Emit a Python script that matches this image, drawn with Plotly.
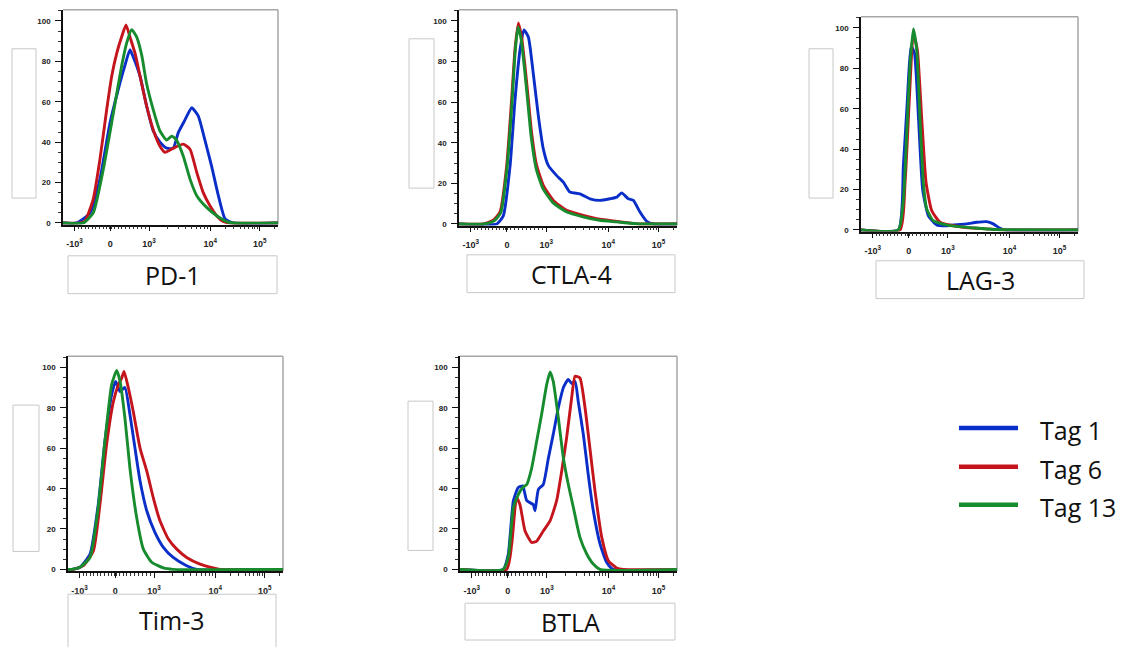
import plotly.graph_objects as go
import math

W, H = 1122, 647

# ---------------- data (x in biexponential display channels 0-1024, y = % of max) -------------
X_TICK_POS = [55, 225, 410, 701, 937]
X_TICK_TEXT = ["-10<sup>3</sup>", "0", "10<sup>3</sup>", "10<sup>4</sup>", "10<sup>5</sup>"]
Y_TICKS = [0, 20, 40, 60, 80, 100]

MARKERS = ["PD-1", "CTLA-4", "LAG-3", "Tim-3", "BTLA"]
SAMPLES = ["Tag 1", "Tag 6", "Tag 13"]
COLORS = ["#0a2ec8", "#c4141c", "#178c2e"]

# PD-1
PD1_TAG1_X = [0, 65, 129, 176, 224, 263, 295, 319, 335, 367, 398, 430, 462, 494, 525, 549, 581, 613, 644, 676, 708, 740, 772, 811, 1024]
PD1_TAG1_Y = [0, 0, 5, 21.7, 49.6, 66, 78, 85.7, 82, 72.6, 58, 45.5, 40, 37, 37, 44.7, 51, 57, 53, 41, 28, 13.5, 2, 0, 0]
PD1_TAG6_X = [0, 81, 105, 144, 176, 208, 232, 256, 279, 300, 319, 343, 367, 398, 430, 462, 486, 525, 573, 605, 637, 668, 700, 732, 764, 795, 1024]
PD1_TAG6_Y = [0, 0, 1, 11.8, 31.5, 56, 72.6, 84, 92, 98, 92, 84, 72.6, 58, 46, 38, 35, 37, 39, 36.5, 25, 15, 8.5, 3.6, 0.7, 0, 0]
PD1_TAG13_X = [0, 97, 144, 192, 240, 279, 303, 327, 351, 375, 398, 430, 462, 494, 518, 541, 573, 605, 637, 684, 732, 780, 811, 1024]
PD1_TAG13_Y = [0, 0, 5, 26.6, 54.5, 77.5, 89, 95.6, 92, 83, 69, 56, 45.5, 41, 43, 41, 33, 21.7, 13.5, 7.7, 3.6, 0.7, 0, 0]

# CTLA-4
CTLA4_TAG1_X = [0, 177, 208, 240, 263, 287, 305, 326, 349, 373, 396, 420, 459, 490, 521, 568, 615, 662, 709, 741, 764, 795, 819, 850, 882, 913, 1024]
CTLA4_TAG1_Y = [0, 0, 4, 28.7, 61, 86, 95.6, 92, 74, 53, 37, 28.7, 23.8, 20.6, 15.7, 14.8, 12.4, 11.6, 12.4, 13.2, 15.3, 12.4, 11.6, 5.9, 1.3, 0, 0]
CTLA4_TAG6_X = [0, 114, 161, 193, 224, 247, 263, 279, 294, 310, 326, 341, 365, 396, 443, 506, 584, 662, 741, 819, 850, 1024]
CTLA4_TAG6_Y = [0, 0, 1.8, 6, 28.7, 61, 86, 99, 92, 77.6, 61, 45, 28.7, 19, 11.6, 6.7, 4.2, 2.3, 1.3, 0.3, 0, 0]
CTLA4_TAG13_X = [0, 118, 165, 196, 226, 249, 264, 277, 292, 308, 324, 339, 363, 394, 441, 504, 582, 660, 739, 817, 848, 1024]
CTLA4_TAG13_Y = [0, 0, 1.5, 5.5, 28, 60, 85, 97, 91, 76, 59, 43, 27, 17.5, 10.5, 6, 3.5, 1.8, 1, 0.2, 0, 0]

# LAG-3
LAG3_TAG1_X = [0, 176, 200, 219, 236, 252, 271, 291, 318, 357, 404, 452, 499, 546, 593, 624, 656, 680, 1024]
LAG3_TAG1_Y = [0, 0, 31.7, 64.6, 91, 87.7, 56, 20, 7, 2.5, 2.1, 2.6, 3, 3.8, 4.1, 3, 0.8, 0, 0]
LAG3_TAG6_X = [0, 184, 208, 228, 247, 266, 286, 307, 334, 373, 467, 593, 687, 1024]
LAG3_TAG6_Y = [0, 0, 23.5, 64.6, 97.5, 89, 56, 23.5, 9.5, 3.8, 1.6, 0.5, 0, 0]
LAG3_TAG13_X = [0, 176, 200, 216, 231, 247, 263, 278, 294, 310, 341, 420, 530, 625, 1024]
LAG3_TAG13_Y = [0, 0, 15, 48, 81, 99.5, 89, 56, 23.5, 10.4, 4.6, 2.1, 1, 0.2, 0]

# Tim-3
TIM3_TAG1_X = [0, 18, 57, 105, 144, 176, 208, 227, 248, 271, 295, 319, 343, 375, 414, 454, 501, 565, 613, 1024]
TIM3_TAG1_Y = [0, 0, 1, 7.6, 32, 63.5, 86.5, 93, 88, 90, 76.6, 60, 43.8, 29, 18.3, 10.9, 5.9, 1.8, 0, 0]
TIM3_TAG6_X = [0, 25, 73, 121, 152, 184, 216, 240, 256, 267, 287, 311, 343, 375, 406, 438, 478, 518, 565, 629, 692, 724, 1024]
TIM3_TAG6_Y = [0, 0, 1.8, 9.2, 32, 62, 83, 91.4, 94.7, 98, 90, 78, 60, 48.7, 35.5, 24, 15, 10, 5.9, 2.6, 0.7, 0, 0]
TIM3_TAG13_X = [0, 18, 57, 105, 144, 176, 208, 232, 248, 271, 295, 327, 359, 399, 454, 500, 1024]
TIM3_TAG13_Y = [0, 0, 1, 6, 30.6, 63.5, 91.4, 98.4, 93, 75, 50, 25.7, 10, 3.5, 0.7, 0, 0]

# BTLA
BTLA_TAG1_X = [0, 204, 228, 252, 275, 296, 315, 346, 354, 370, 393, 417, 440, 464, 488, 511, 527, 543, 558, 582, 605, 629, 661, 692, 723, 1024]
BTLA_TAG1_Y = [0, 0, 7.6, 34, 40.5, 41.3, 34, 32, 29, 39.6, 42, 55, 66.8, 80, 90, 94, 92, 93, 83, 66.8, 47, 29, 12.5, 3.5, 0, 0]
BTLA_TAG6_X = [0, 220, 244, 267, 283, 307, 338, 362, 393, 425, 456, 480, 503, 527, 543, 566, 590, 613, 637, 669, 700, 739, 771, 1024]
BTLA_TAG6_Y = [0, 0, 12.5, 35.5, 32, 19, 13.3, 14, 19, 24, 34, 48.7, 65, 85, 95.6, 94.7, 80, 60, 38.8, 15.8, 4.3, 0.7, 0, 0]
BTLA_TAG13_X = [0, 204, 228, 252, 275, 296, 315, 338, 362, 385, 409, 425, 440, 464, 488, 511, 535, 566, 598, 629, 661, 1024]
BTLA_TAG13_Y = [0, 0, 6, 30.6, 37, 40.5, 42, 50, 63.5, 76.6, 91.4, 97.7, 93, 75, 55, 42, 30.6, 15.8, 7.6, 2.6, 0, 0]

SERIES = {
    "PD-1": [(PD1_TAG1_X, PD1_TAG1_Y), (PD1_TAG6_X, PD1_TAG6_Y), (PD1_TAG13_X, PD1_TAG13_Y)],
    "CTLA-4": [(CTLA4_TAG1_X, CTLA4_TAG1_Y), (CTLA4_TAG6_X, CTLA4_TAG6_Y), (CTLA4_TAG13_X, CTLA4_TAG13_Y)],
    "LAG-3": [(LAG3_TAG1_X, LAG3_TAG1_Y), (LAG3_TAG6_X, LAG3_TAG6_Y), (LAG3_TAG13_X, LAG3_TAG13_Y)],
    "Tim-3": [(TIM3_TAG1_X, TIM3_TAG1_Y), (TIM3_TAG6_X, TIM3_TAG6_Y), (TIM3_TAG13_X, TIM3_TAG13_Y)],
    "BTLA": [(BTLA_TAG1_X, BTLA_TAG1_Y), (BTLA_TAG6_X, BTLA_TAG6_Y), (BTLA_TAG13_X, BTLA_TAG13_Y)],
}

# ---------------- layout (pixel geometry) ----------------
PANELS = {
    "PD-1":   dict(L=63, R=278, y100=21, y0=224, lbox=(12, 36, 49, 199), bbox=(68, 277, 257, 295)),
    "CTLA-4": dict(L=459, R=677, y100=21, y0=225, lbox=(409, 434, 39, 189), bbox=(467, 675, 256, 294)),
    "LAG-3":  dict(L=861, R=1078, y100=28, y0=231, lbox=(809, 833, 49, 199), bbox=(876, 1084, 262, 300)),
    "Tim-3":  dict(L=68, R=283, y100=369, y0=572, lbox=(13, 39, 407, 554), bbox=(68, 276, 597, 660)),
    "BTLA":   dict(L=460, R=677, y100=369, y0=572, lbox=(408, 433, 403, 553), bbox=(465, 675, 606, 643)),
}
Y_MIN, Y_MAX = -0.8, 105.5

# minor x ticks (axis decoration of the biexponential scale)
minor_x = []
for i in range(1, 10):
    minor_x.append(X_TICK_POS[0] + (X_TICK_POS[1] - X_TICK_POS[0]) * i / 10)
    minor_x.append(X_TICK_POS[1] + (X_TICK_POS[2] - X_TICK_POS[1]) * i / 10)
minor_x += [X_TICK_POS[1] - 5, X_TICK_POS[1] - 2.5, X_TICK_POS[1] + 2.5, X_TICK_POS[1] + 5]
for m in range(2, 10):
    minor_x.append(X_TICK_POS[2] + math.log10(m) * (X_TICK_POS[3] - X_TICK_POS[2]))
    minor_x.append(X_TICK_POS[3] + math.log10(m) * (X_TICK_POS[4] - X_TICK_POS[3]))
minor_x.append(X_TICK_POS[4] + math.log10(2) * (X_TICK_POS[4] - X_TICK_POS[3]))

fig = go.Figure()
ytickfont = dict(family="Liberation Sans, Arial", size=8, color="#222222", weight="bold")
xtickfont = dict(family="Liberation Sans, Arial", size=9, color="#222222", weight="bold")
shapes = []
annotations = []

for i, name in enumerate(MARKERS):
    p = PANELS[name]
    k = "" if i == 0 else str(i + 1)
    u = (p["y0"] - p["y100"]) / 100.0
    top = p["y0"] - Y_MAX * u
    bot = p["y0"] - Y_MIN * u
    xdom = [p["L"] / W, p["R"] / W]
    ydom = [1 - bot / H, 1 - top / H]

    for j, (xs, ys) in enumerate(SERIES[name]):
        fig.add_trace(go.Scatter(
            x=xs, y=ys, mode="lines", name=SAMPLES[j], showlegend=False,
            line=dict(color=COLORS[j], width=2.9, shape="spline", smoothing=0.5),
            xaxis="x" + k, yaxis="y" + k, hoverinfo="skip"))

    fig.layout["xaxis" + k] = dict(
        domain=xdom, anchor="y" + k, range=[0, 1024], showgrid=False, zeroline=False,
        showline=True, linecolor="#111111", linewidth=1.6,
        tickmode="array", tickvals=X_TICK_POS, ticktext=X_TICK_TEXT,
        ticks="outside", ticklen=5, tickwidth=1.4, tickcolor="#111111",
        tickfont=xtickfont, ticklabelstandoff=5,
        minor=dict(tickmode="array", tickvals=minor_x, ticks="outside", ticklen=3,
                   tickwidth=1, tickcolor="#333333"),
        fixedrange=True)
    fig.layout["yaxis" + k] = dict(
        domain=ydom, anchor="x" + k, range=[Y_MIN, Y_MAX], showgrid=False, zeroline=False,
        showline=True, linecolor="#111111", linewidth=1.6,
        tickmode="array", tickvals=Y_TICKS, ticks="outside", ticklen=6, tickwidth=1.4,
        tickcolor="#111111", tickfont=ytickfont, ticklabelstandoff=3,
        minor=dict(dtick=5, tick0=0, ticks="outside", ticklen=3, tickwidth=1, tickcolor="#333333"),
        fixedrange=True)

    # grey top/right frame
    shapes.append(dict(type="line", xref="x" + k + " domain", yref="y" + k + " domain",
                       x0=0, x1=1, y0=1, y1=1, line=dict(color="#a6a6a6", width=1.5), layer="below"))
    shapes.append(dict(type="line", xref="x" + k + " domain", yref="y" + k + " domain",
                       x0=1, x1=1, y0=0, y1=1, line=dict(color="#a6a6a6", width=1.5), layer="below"))

    # empty axis-title box on the left
    x0, x1, y0, y1 = p["lbox"]
    shapes.append(dict(type="rect", xref="paper", yref="paper",
                       x0=x0 / W, x1=x1 / W, y0=1 - y1 / H, y1=1 - y0 / H,
                       line=dict(color="#c8c8c8", width=1)))
    # marker label box below
    x0, x1, y0, y1 = p["bbox"]
    shapes.append(dict(type="rect", xref="paper", yref="paper",
                       x0=x0 / W, x1=x1 / W, y0=1 - y1 / H, y1=1 - y0 / H,
                       line=dict(color="#c8c8c8", width=1)))
    yc = (y0 + y1) / 2 if y1 < 650 else 623
    annotations.append(dict(text=name, xref="paper", yref="paper",
                            x=(x0 + x1) / 2 / W, y=1 - yc / H, showarrow=False,
                            xanchor="center", yanchor="middle",
                            font=dict(family="Open Sans", size=25, color="#111111")))

# legend drawn manually
LEG_Y = [430, 469, 507]
for j, s in enumerate(SAMPLES):
    shapes.append(dict(type="line", xref="paper", yref="paper",
                       x0=959 / W, x1=1018 / W, y0=1 - LEG_Y[j] / H, y1=1 - LEG_Y[j] / H,
                       line=dict(color=COLORS[j], width=4.5)))
    annotations.append(dict(text=s, xref="paper", yref="paper", x=1038 / W, y=1 - (LEG_Y[j] + 2) / H,
                            showarrow=False, xanchor="left", yanchor="middle",
                            font=dict(family="Open Sans", size=25, color="#111111")))

fig.update_layout(width=W, height=H, margin=dict(l=0, r=0, t=0, b=0),
                  paper_bgcolor="white", plot_bgcolor="white",
                  shapes=shapes, annotations=annotations, showlegend=False)

fig.write_html("out.html", config={"displayModeBar": False})
